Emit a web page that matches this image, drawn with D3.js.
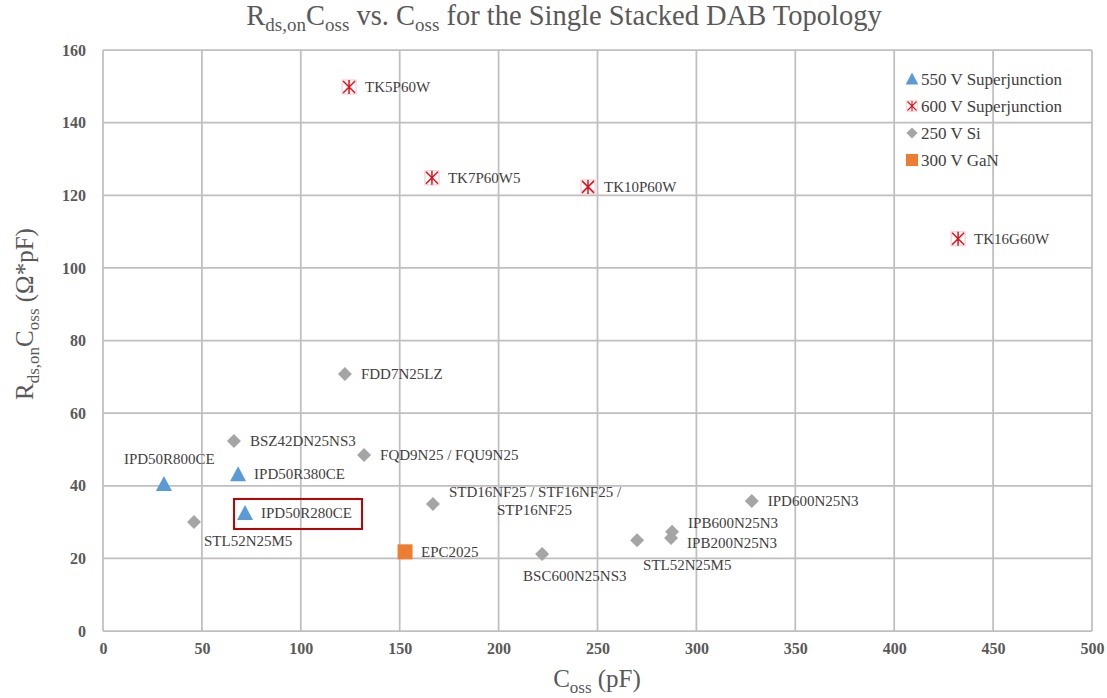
<!DOCTYPE html>
<html>
<head>
<meta charset="utf-8">
<script src="https://cdn.jsdelivr.net/npm/d3@7"></script>
<style>
  body { margin:0; background:#fff; }
  svg text { font-family: "Liberation Serif", "Times New Roman", serif !important; }
</style>
</head>
<body>
<div id="chart"></div>
<script>
// series data: [name, Coss (pF), Rds,on*Coss (ohm*pF)]
const sj550 = [
  ["IPD50R800CE", 30.8, 40.5],
  ["IPD50R380CE", 68.3, 43.2],
  ["IPD50R280CE", 71.8, 32.5]
]
const sj600 = [
  ["TK5P60W", 124.4, 149.8],
  ["TK7P60W5", 166.3, 124.8],
  ["TK10P60W", 245.2, 122.3],
  ["TK16G60W", 432.3, 108.0]
]
const si250 = [
  ["FDD7N25LZ", 122.3, 70.8],
  ["BSZ42DN25NS3", 66.2, 52.3],
  ["FQD9N25 / FQU9N25", 132.0, 48.5],
  ["STD16NF25 / STF16NF25 /|STP16NF25", 166.8, 35.0],
  ["STL52N25M5", 46.0, 30.0],
  ["BSC600N25NS3", 222.0, 21.2],
  ["STL52N25M5 ", 270.0, 25.0],
  ["IPB600N25N3", 287.7, 27.3],
  ["IPB200N25N3", 287.2, 25.6],
  ["IPD600N25N3", 328.0, 35.8]
]
const gan300 = [
  ["EPC2025", 152.7, 21.8]
]
const seriesNames = ["550 V Superjunction", "600 V Superjunction", "250 V Si", "300 V GaN"]
const xTicks = d3.range(0, 501, 50)
const yTicks = d3.range(0, 161, 20)

// label placement (dx, dy, anchor) per point
const labelPos = {
  "IPD50R800CE": [-40, -20, "start"],
  "STL52N25M5": [10, 24, "start"],
  "BSC600N25NS3": [-19, 27, "start"],
  "STL52N25M5 ": [6, 30, "start"],
  "STD16NF25 / STF16NF25 /|STP16NF25": [16, -7, "start"],
  "IPB600N25N3": [16, -4, "start"],
  "IPB200N25N3": [16, 10, "start"]
}

const W = 1107, H = 698
const margin = {top:50, right:15, bottom:67, left:103}
const width = 1092 - margin.left, height = 631 - margin.top

const svg = d3.select("#chart").append("svg")
  .attr("width", W).attr("height", H)
const g = svg.append("g")
  .attr("transform", "translate(" + margin.left + "," + margin.top + ")")

const x = d3.scaleLinear().domain([0, 500]).range([0, width])
const y = d3.scaleLinear().domain([0, 160]).range([height, 0])

// grid
g.selectAll(".vg").data(xTicks).enter().append("line")
  .attr("x1", d => x(d)).attr("x2", d => x(d))
  .attr("y1", 0).attr("y2", height)
  .attr("stroke", "#bfbfbf").attr("stroke-width", 1.75)
g.selectAll(".hg").data(yTicks).enter().append("line")
  .attr("x1", 0).attr("x2", width)
  .attr("y1", d => y(d)).attr("y2", d => y(d))
  .attr("stroke", "#bfbfbf").attr("stroke-width", 1.75)

// axes
const xa = g.append("g")
  .attr("transform", "translate(0," + height + ")")
  .call(d3.axisBottom(x).tickValues(xTicks).tickSize(0).tickPadding(12))
const ya = g.append("g")
  .call(d3.axisLeft(y).tickValues(yTicks).tickSize(0).tickPadding(17))
for (const a of [xa, ya]) {
  a.select(".domain").remove()
  a.selectAll("text")
    .style("font-size", "16px").style("font-weight", "bold")
    .attr("fill", "#595959")
}

// title
const title = svg.append("text")
  .attr("x", 564).attr("y", 25)
  .attr("text-anchor", "middle")
  .attr("fill", "#595959")
  .style("font-size", "28.5px")
title.append("tspan").text("R")
title.append("tspan").text("ds,on").attr("dy", 6).style("font-size", "19px")
title.append("tspan").text("C").attr("dy", -6)
title.append("tspan").text("oss").attr("dy", 6).style("font-size", "19px")
title.append("tspan").text(" vs. C").attr("dy", -6)
title.append("tspan").text("oss").attr("dy", 6).style("font-size", "19px")
title.append("tspan").text(" for the Single Stacked DAB Topology").attr("dy", -6)

// axis titles
const xt = svg.append("text")
  .attr("x", 597).attr("y", 687)
  .attr("text-anchor", "middle").attr("fill", "#595959")
  .style("font-size", "25px")
xt.append("tspan").text("C")
xt.append("tspan").text("oss").attr("dy", 6).style("font-size", "17px")
xt.append("tspan").text(" (pF)").attr("dy", -6)

const yt = svg.append("text")
  .attr("transform", "translate(33,314) rotate(-90)")
  .attr("text-anchor", "middle").attr("fill", "#595959")
  .style("font-size", "25px")
yt.append("tspan").text("R")
yt.append("tspan").text("ds,on").attr("dy", 6).style("font-size", "17px")
yt.append("tspan").text("C").attr("dy", -6)
yt.append("tspan").text("oss").attr("dy", 6).style("font-size", "17px")
yt.append("tspan").text(" (Ω*pF)").attr("dy", -6)

// marker drawing
function drawMarker(sel, type) {
  if (type === 0) {
    sel.append("path").attr("d", "M0,-8 L8,7 L-8,7Z").attr("fill", "#5b9bd5")
  } else if (type === 1) {
    sel.append("rect").attr("x", -7).attr("y", -7).attr("width", 14).attr("height", 14)
      .attr("fill", "none").attr("stroke", "#f2c4c4").attr("stroke-width", 1)
    sel.append("path").attr("d", "M-6,-6L6,6M-6,6L6,-6M0,-7L0,7")
      .attr("stroke", "#e0101a").attr("stroke-width", 1.5)
  } else if (type === 2) {
    sel.append("path").attr("d", "M0,-7 L7,0 L0,7 L-7,0Z").attr("fill", "#a5a5a5")
  } else {
    sel.append("rect").attr("x", -7.5).attr("y", -7.5).attr("width", 15).attr("height", 15)
      .attr("fill", "#ed7d31")
  }
}

const allSeries = [sj550, sj600, si250, gan300]
allSeries.forEach((data, i) => {
  const pts = g.selectAll(null).data(data).enter().append("g")
    .attr("transform", d => "translate(" + x(d[1]) + "," + y(d[2]) + ")")
  drawMarker(pts, i)
  pts.each(function(d) {
    const p = labelPos[d[0]] || [16, 5, "start"]
    const t = d3.select(this).append("text")
      .attr("x", p[0]).attr("y", p[1])
      .attr("text-anchor", p[2])
      .attr("fill", "#404040")
      .style("font-size", "15px")
    d[0].trim().split("|").forEach((line, k) => {
      t.append("tspan").attr("x", k === 0 ? p[0] : p[0] + 48)
        .attr("dy", k === 0 ? 0 : 18).text(line)
    })
  })
})

// highlight box around IPD50R280CE
const hl = sj550[2]
g.append("rect")
  .attr("x", x(hl[1]) - 11).attr("y", y(hl[2]) - 14)
  .attr("width", 128).attr("height", 30)
  .attr("fill", "none").attr("stroke", "#c00000").attr("stroke-width", 2)

// legend
const leg = svg.append("g").attr("transform", "translate(912,79)")
seriesNames.forEach((name, i) => {
  const r = leg.append("g").attr("transform", "translate(0," + (i * 27) + ")")
  const m = r.append("g").attr("transform", i === 1 ? "scale(0.75)" : "scale(0.8)")
  drawMarker(m, i)
  r.append("text").attr("x", 9).attr("y", 5.5)
    .attr("fill", "#404040").style("font-size", "17px").text(name)
})
</script>
</body>
</html>
